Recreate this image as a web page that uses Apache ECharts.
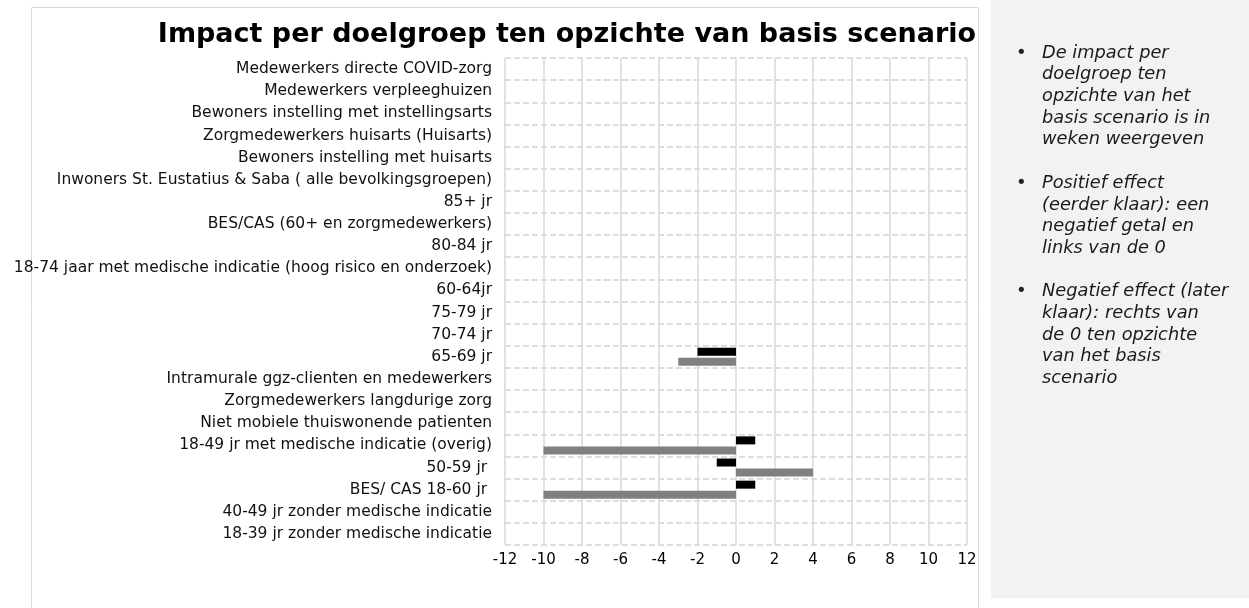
<!DOCTYPE html>
<html>
<head>
<meta charset="utf-8">
<script src="https://cdn.jsdelivr.net/npm/echarts@6/dist/echarts.min.js"></script>
<style>
  html, body { margin: 0; padding: 0; background: #fff; }
  #chart { width: 1249px; height: 608px; }
</style>
</head>
<body>
<div id="chart"></div>
<script>
// doelgroepen, van boven naar beneden
const categories = [
  "Medewerkers directe COVID-zorg",
  "Medewerkers verpleeghuizen",
  "Bewoners instelling met instellingsarts",
  "Zorgmedewerkers huisarts (Huisarts)",
  "Bewoners instelling met huisarts",
  "Inwoners St. Eustatius & Saba ( alle bevolkingsgroepen)",
  "85+ jr",
  "BES/CAS (60+ en zorgmedewerkers)",
  "80-84 jr",
  "18-74 jaar met medische indicatie (hoog risico en onderzoek)",
  "60-64jr",
  "75-79 jr",
  "70-74 jr",
  "65-69 jr",
  "Intramurale ggz-clienten en medewerkers",
  "Zorgmedewerkers langdurige zorg",
  "Niet mobiele thuiswonende patienten",
  "18-49 jr met medische indicatie (overig)",
  "50-59 jr ",
  "BES/ CAS 18-60 jr ",
  "40-49 jr zonder medische indicatie",
  "18-39 jr zonder medische indicatie"
];

// impact in weken
const impactBlack = [0, 0, 0, 0, 0, 0, 0, 0, 0, 0, 0, 0, 0, -2, 0, 0, 0, 1, -1, 1, 0, 0];
const impactGray  = [0, 0, 0, 0, 0, 0, 0, 0, 0, 0, 0, 0, 0, -3, 0, 0, 0, -10, 4, -10, 0, 0];

const xMin = -12;
const xMax = 12;
const xStep = 2;

const title = "Impact per doelgroep ten opzichte van basis scenario";
const notes = [
  "De impact per\ndoelgroep ten\nopzichte van het\nbasis scenario is in\nweken weergeven",
  "Positief effect\n(eerder klaar): een\nnegatief getal en\nlinks van de 0",
  "Negatief effect (later\nklaar): rechts van\nde 0 ten opzichte\nvan het basis\nscenario"
];

const chart = echarts.init(document.getElementById("chart"));

const lineH = 21.7;
const noteGraphics = [];
let noteY = 53 - lineH / 2;
notes.forEach((txt) => {
  noteGraphics.push({
    type: "text",
    left: 1016,
    top: noteY,
    z: 1,
    style: { text: "•", font: "18px 'DejaVu Sans'", fill: "#222", lineHeight: lineH }
  });
  noteGraphics.push({
    type: "text",
    left: 1042,
    top: noteY,
    z: 1,
    style: {
      text: txt,
      font: "italic 17.8px 'DejaVu Sans'",
      fill: "#1a1a1a",
      lineHeight: lineH
    }
  });
  noteY += (txt.split("\n").length + 1) * lineH;
});

const option = {
  backgroundColor: "#fff",
  animation: false,
  title: {
    text: title,
    left: 562,
    top: 16,
    textAlign: "center",
    textStyle: {
      fontFamily: "DejaVu Sans",
      fontWeight: "bold",
      fontSize: 27,
      color: "#000"
    }
  },
  graphic: [
    {
      type: "rect",
      z: -10,
      shape: { x: 31.5, y: 7.5, width: 947, height: 620 },
      style: { fill: "#fff", stroke: "#dadada", lineWidth: 1 }
    },
    {
      type: "rect",
      z: -10,
      shape: { x: 991, y: 0, width: 258, height: 598 },
      style: { fill: "#f2f2f2" }
    },
    ...noteGraphics
  ],
  grid: {
    left: 505,
    right: 1249 - 967,
    top: 58,
    bottom: 608 - 545,
    containLabel: false
  },
  xAxis: {
    type: "value",
    min: xMin,
    max: xMax,
    interval: xStep,
    axisLine: { show: false },
    axisTick: { show: false },
    axisLabel: {
      color: "#000",
      fontFamily: "DejaVu Sans",
      fontSize: 15,
      margin: 8
    },
    splitLine: {
      show: true,
      lineStyle: { color: "#d9d9d9", width: 1.5, type: "solid" }
    }
  },
  yAxis: {
    type: "category",
    inverse: true,
    data: categories,
    axisLine: { show: false },
    axisTick: { show: false },
    axisLabel: {
      color: "#111",
      fontFamily: "DejaVu Sans",
      fontSize: 15.5,
      margin: 13,
      interval: 0
    },
    splitLine: {
      show: true,
      interval: 0,
      lineStyle: { color: "#d4d4d4", width: 1.5, type: [6, 3] }
    }
  },
  series: [
    {
      name: "zwart",
      type: "bar",
      data: impactBlack,
      barWidth: 8,
      barGap: "25%",
      itemStyle: { color: "#000" }
    },
    {
      name: "grijs",
      type: "bar",
      data: impactGray,
      barWidth: 8,
      itemStyle: { color: "#808080" }
    }
  ]
};

chart.setOption(option);
</script>
</body>
</html>
